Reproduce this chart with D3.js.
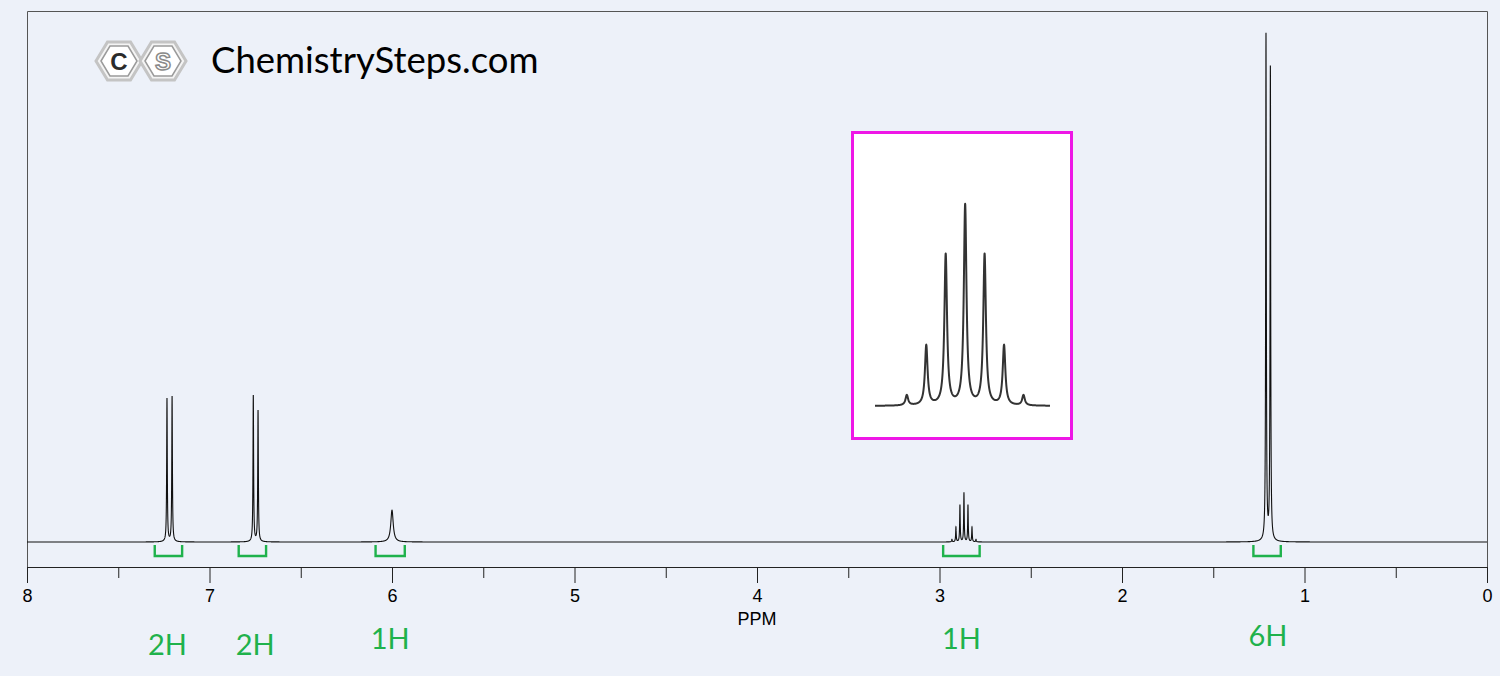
<!DOCTYPE html>
<html>
<head>
<meta charset="utf-8">
<script src="https://cdnjs.cloudflare.com/ajax/libs/d3/7.8.5/d3.min.js"></script>
<style>
  body { margin:0; background:#edf1f9; }
  svg { display:block; }
</style>
</head>
<body>
<svg id="chart" width="1500" height="676"></svg>
<script>
// peaks: position (ppm), apex height (0-100), half width (ppm)
var peakPpm    = [7.233, 7.205, 6.760, 6.734, 6.000,
                  2.932, 2.910, 2.888, 2.866, 2.844, 2.822, 2.800,
                  1.211, 1.187];
var peakHeight = [28.3, 28.7, 28.9, 25.9, 6.3,
                  0.5, 2.9, 7.3, 9.7, 7.3, 2.9, 0.5,
                  100, 93.5];
var peakWidth  = [0.002, 0.002, 0.002, 0.002, 0.008,
                  0.0018, 0.0018, 0.0018, 0.0018, 0.0018, 0.0018, 0.0018,
                  0.002, 0.002];

// integration brackets (ppm from, to) and their labels
var integFrom  = [7.30, 6.84, 6.09, 2.98, 1.28];
var integTo    = [7.15, 6.69, 5.93, 2.78, 1.13];
var integLabel = ["2H", "2H", "1H", "1H", "6H"];
var labelPpm   = [7.23, 6.75, 6.01, 2.88, 1.20];
var labelBase  = [655, 655, 649, 649, 646];

var tickMajor = d3.range(0, 9, 1);
var tickMinor = d3.range(0.5, 8, 1);

var svg = d3.select("#chart");
var x = d3.scaleLinear().domain([8, 0]).range([27, 1487]);
var y = d3.scaleLinear().domain([0, 100]).range([542, 36]);

function signal(p, idx) {
  var s = 0;
  idx.forEach(function(i) {
    var d = (p - peakPpm[i]) / peakWidth[i];
    s += peakHeight[i] / (1 + d * d);
  });
  return s;
}

// sample points: coarse grid plus fine grids around every peak
function samples(lo, hi) {
  var pts = d3.range(lo, hi, 0.002);
  peakPpm.forEach(function(c) {
    d3.range(c - 0.04, c + 0.04, 0.0001).forEach(function(p) { if (p > lo && p < hi) pts.push(p); });
    if (c > lo && c < hi) pts.push(c);
  });
  pts.push(hi);
  return pts.sort(d3.ascending);
}

svg.append("rect").attr("width", 1500).attr("height", 676).attr("fill", "#edf1f9");

// frame
svg.append("path")
  .attr("d", "M27.5,582 V11.5 H1487.5 V582")
  .attr("fill", "none").attr("stroke", "#555").attr("stroke-width", 1);

// spectrum
var all = d3.range(peakPpm.length);
var line = d3.line()
  .x(function(p) { return x(p); })
  .y(function(p) { return y(signal(p, all)); });

svg.append("path")
  .datum(samples(0, 8))
  .attr("d", line)
  .attr("fill", "none")
  .attr("stroke", "#111")
  .attr("stroke-width", 1.1);

// integration brackets
var green = "#1fb24c";
svg.append("g").selectAll("path")
  .data(integFrom)
  .enter().append("path")
  .attr("d", function(d, i) {
    var a = x(d), b = x(integTo[i]);
    return "M" + a + ",545 V556 H" + b + " V545";
  })
  .attr("fill", "none").attr("stroke", green).attr("stroke-width", 2.4);

svg.append("g").selectAll("text")
  .data(integLabel)
  .enter().append("text")
  .attr("x", function(d, i) { return x(labelPpm[i]); })
  .attr("y", function(d, i) { return labelBase[i]; })
  .attr("text-anchor", "middle")
  .attr("font-family", "Lato, 'Open Sans', sans-serif")
  .attr("font-size", 29)
  .attr("fill", green)
  .text(function(d) { return d; });

// axis
var axis = svg.append("g").attr("transform", "translate(0,567)");
axis.call(d3.axisBottom(x).tickValues(tickMajor).tickSize(16).tickSizeOuter(0).tickPadding(6)
  .tickFormat(d3.format("d")));
axis.append("g").call(d3.axisBottom(x).tickValues(tickMinor).tickSize(11).tickFormat(""))
  .select(".domain").remove();
axis.selectAll("path, line").attr("stroke", "#222");
axis.selectAll("text").attr("font-family", "'Liberation Sans', Arial, sans-serif")
  .attr("font-size", 18).attr("fill", "#000");

svg.append("text")
  .attr("x", x(4)).attr("y", 625)
  .attr("text-anchor", "middle")
  .attr("font-family", "'Liberation Sans', Arial, sans-serif")
  .attr("font-size", 18)
  .text("PPM");

// inset: zoomed septet
var sept = d3.range(5, 12);
var ix = d3.scaleLinear().domain([2.968, 2.770]).range([875, 1050]);
var iy = d3.scaleLinear().domain([0, 9.7]).range([406, 206]);

svg.append("rect")
  .attr("x", 852.5).attr("y", 132.5).attr("width", 219).attr("height", 306)
  .attr("fill", "#fff").attr("stroke", "#ee17e6").attr("stroke-width", 3);

svg.append("path")
  .datum(samples(2.770, 2.968))
  .attr("d", d3.line()
    .x(function(p) { return ix(p); })
    .y(function(p) { return iy(signal(p, sept)); }))
  .attr("fill", "none")
  .attr("stroke", "#333")
  .attr("stroke-width", 2)
  .attr("stroke-linejoin", "round");

// logo
function hexPts(cx, cy, w, h) {
  var q = w * 0.25;
  return [[cx - w / 2, cy], [cx - w / 2 + q, cy - h / 2], [cx + w / 2 - q, cy - h / 2],
          [cx + w / 2, cy], [cx + w / 2 - q, cy + h / 2], [cx - w / 2 + q, cy + h / 2]].join(" ");
}
var logo = svg.append("g");
[[119, "C", "#2b2b2b"], [163, "S", "#8a8a8a"]].forEach(function(h) {
  logo.append("polygon").attr("points", hexPts(h[0], 61, 46, 38))
    .attr("fill", "#f4f4f4").attr("stroke", "#c4c4c4").attr("stroke-width", 3);
  logo.append("polygon").attr("points", hexPts(h[0], 61, 36, 30))
    .attr("fill", "#fff").attr("stroke", "#9a9a9a").attr("stroke-width", 1.5);
  logo.append("text").attr("x", h[0]).attr("y", 70)
    .attr("text-anchor", "middle")
    .attr("font-family", "'Liberation Sans', Arial, sans-serif")
    .attr("font-weight", "bold").attr("font-size", 24)
    .attr("fill", h[1] === "C" ? "#2b2b2b" : "#fff")
    .attr("stroke", h[2]).attr("stroke-width", h[1] === "S" ? 1.5 : 0)
    .text(h[1]);
});

svg.append("text")
  .attr("x", 211).attr("y", 73)
  .attr("font-family", "Lato, 'Open Sans', sans-serif")
  .attr("font-size", 36.5)
  .attr("fill", "#000")
  .text("ChemistrySteps.com");
</script>
</body>
</html>
